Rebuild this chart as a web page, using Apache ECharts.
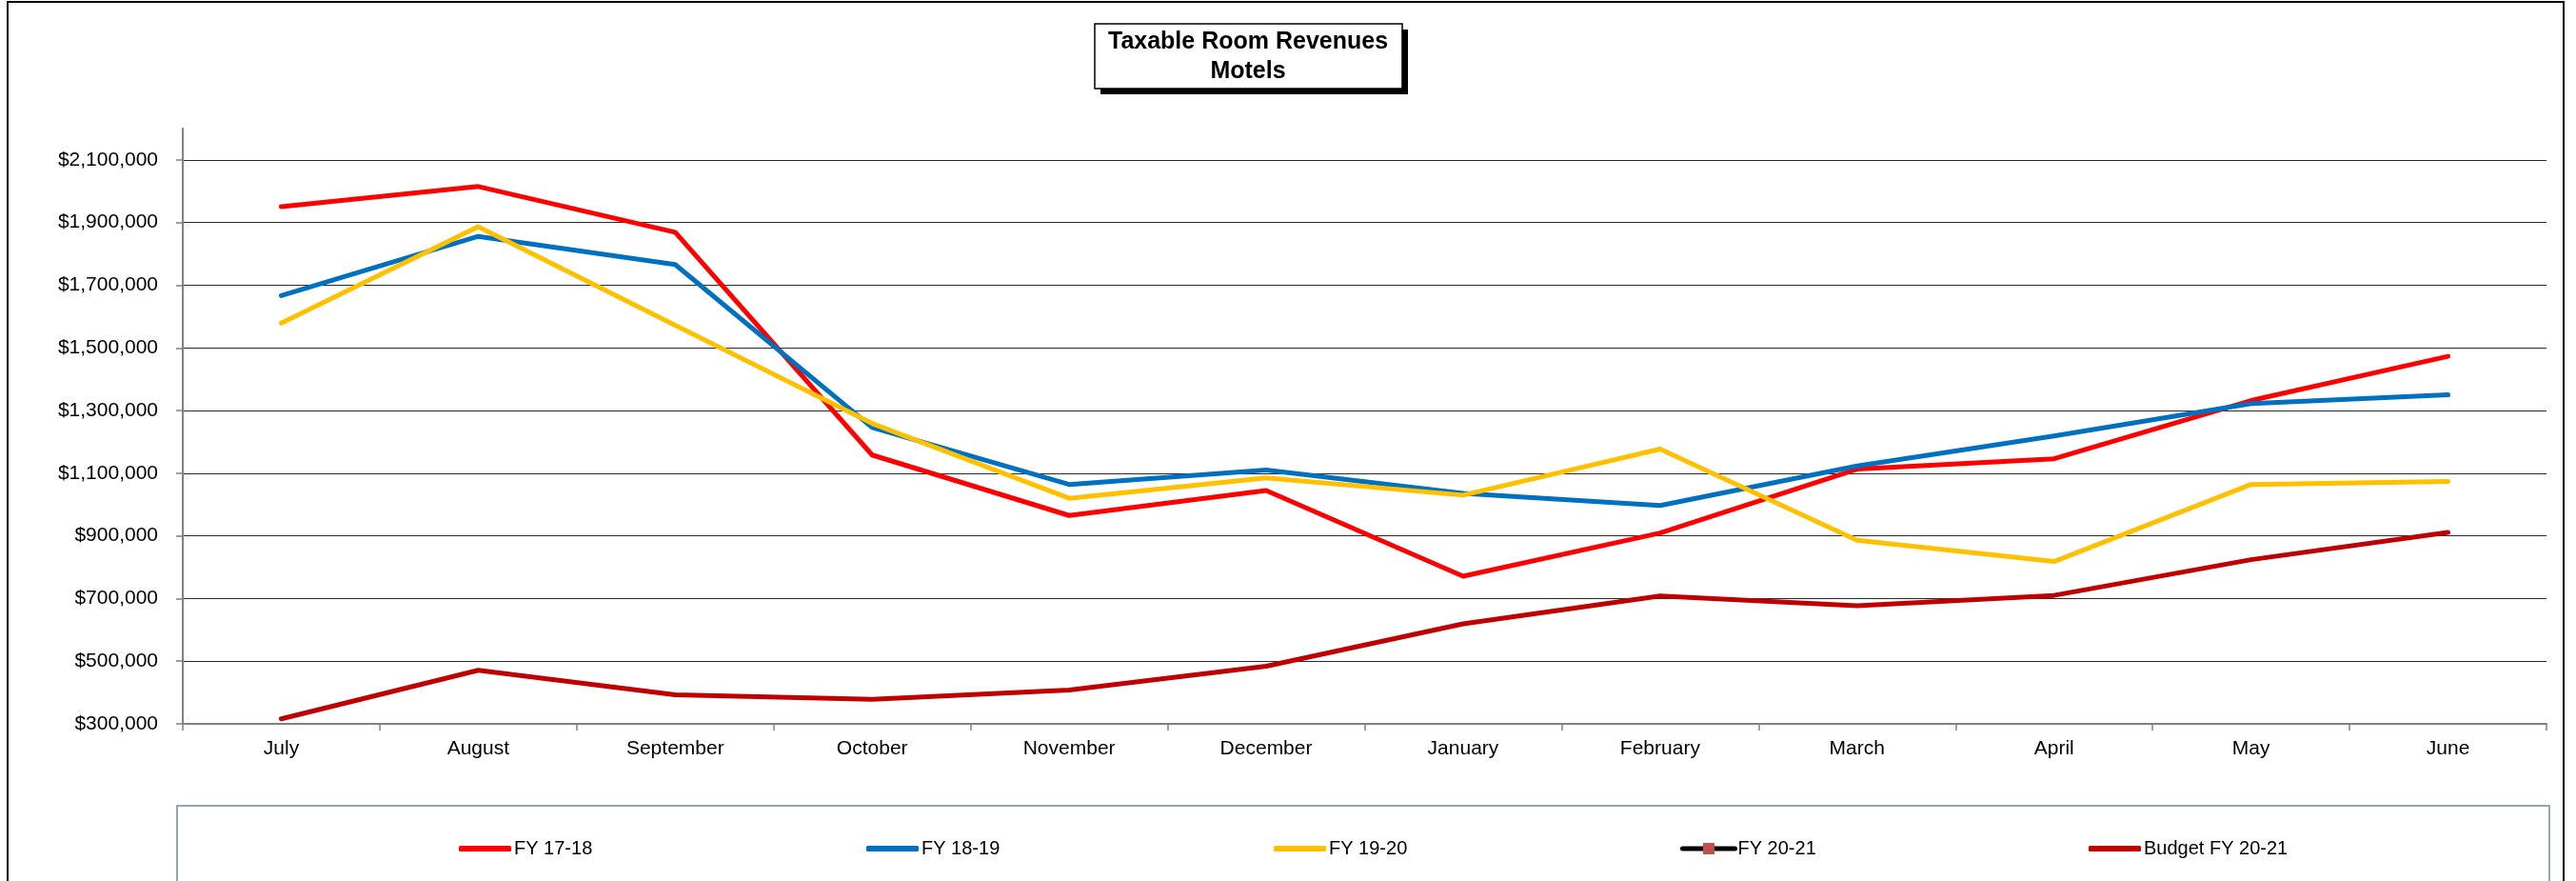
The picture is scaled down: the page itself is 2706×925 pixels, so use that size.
<!DOCTYPE html>
<html>
<head>
<meta charset="utf-8">
<title>Taxable Room Revenues - Motels</title>
<script src="https://cdn.jsdelivr.net/npm/echarts@6/dist/echarts.min.js"></script>
<style>
  html, body { margin: 0; padding: 0; background: #fff; }
  #chart { width: 2706px; height: 925px; }
</style>
</head>
<body>
<div id="chart"></div>
<script>
// months of the fiscal year
var months = ['July', 'August', 'September', 'October', 'November', 'December',
  'January', 'February', 'March', 'April', 'May', 'June']

// values
var fy1718 = [1951000, 2015000, 1869000, 1158000, 965000, 1045000, 771000, 909000, 1113000, 1146000, 1332000, 1473000]
var fy1819 = [1667000, 1856000, 1766000, 1246000, 1064000, 1110000, 1036000, 997000, 1123000, 1219000, 1322000, 1350000]
var fy1920 = [1579000, 1887000, 1572000, 1259000, 1020000, 1085000, 1030000, 1177000, 886000, 818000, 1064000, 1074000]
var fy2021 = [null, null, null, null, null, null, null, null, null, null, null, null]
var budget2021 = [316000, 471000, 393000, 378000, 408000, 484000, 619000, 708000, 677000, 710000, 824000, 911000]

var seriesNames = ['FY 17-18', 'FY 18-19', 'FY 19-20', 'FY 20-21', 'Budget FY 20-21']
var seriesColors = ['#FF0000', '#0070C0', '#FFC000', '#000000', '#C00000']

var font = "'Liberation Sans', Arial, sans-serif"

function money(v) {
  return '$' + Number(v).toLocaleString('en-US')
}

function lineSeries(name, data, color) {
  return {
    name: name,
    type: 'line',
    data: data,
    symbol: 'none',
    smooth: false,
    lineStyle: { color: color, width: 5, cap: 'round', join: 'round' },
    itemStyle: { color: color },
    emphasis: { disabled: true }
  }
}

// one legend per item so they sit at even spacing like the original
var legendLefts = [477, 905, 1333, 1760, 2189]
var legends = seriesNames.map(function(name, i) {
  var item = { name: name }
  if (i !== 3) {
    item.icon = 'roundRect'
  }
  return {
    data: [item],
    left: legendLefts[i],
    top: 876,
    itemWidth: 55,
    itemHeight: i === 3 ? 15 : 6,
    selectedMode: false,
    lineStyle: { width: 5, cap: 'round' },
    textStyle: { color: '#000', fontSize: 20, fontFamily: font, padding: [0, 0, 0, -2] }
  }
})

var chart = echarts.init(document.getElementById('chart'))

var option = {
  backgroundColor: '#fff',
  animation: false,
  textStyle: { fontFamily: font },
  grid: { left: 192, right: 31, top: 135, bottom: 165, containLabel: false },
  legend: legends,
  xAxis: {
    type: 'category',
    data: months,
    boundaryGap: true,
    axisLine: { lineStyle: { color: '#808080', width: 2 } },
    axisTick: { show: true, length: 7, lineStyle: { color: '#808080', width: 1.5 } },
    axisLabel: { color: '#000', fontSize: 21, fontFamily: font, margin: 16 },
    splitLine: { show: false }
  },
  yAxis: {
    type: 'value',
    min: 300000,
    max: 2200000,
    interval: 200000,
    axisLine: { show: true, lineStyle: { color: '#808080', width: 2 } },
    axisTick: { show: true, length: 7, lineStyle: { color: '#808080', width: 1.5 } },
    axisLabel: {
      color: '#000',
      fontSize: 21,
      fontFamily: font,
      margin: 26,
      showMaxLabel: false,
      formatter: money
    },
    splitLine: { show: true, showMaxLine: false, lineStyle: { color: '#2a2a2a', width: 1.2 } }
  },
  series: [
    lineSeries(seriesNames[0], fy1718, seriesColors[0]),
    lineSeries(seriesNames[1], fy1819, seriesColors[1]),
    lineSeries(seriesNames[2], fy1920, seriesColors[2]),
    {
      name: seriesNames[3],
      type: 'line',
      data: fy2021,
      symbol: 'rect',
      symbolSize: 10,
      lineStyle: { color: '#000', width: 5 },
      itemStyle: { color: '#C0504D' }
    },
    lineSeries(seriesNames[4], budget2021, seriesColors[4])
  ],
  graphic: [
    // chart border
    {
      type: 'rect',
      shape: { x: 8, y: 2, width: 2685, height: 940 },
      style: { fill: 'none', stroke: '#000', lineWidth: 2 },
      silent: true
    },
    // legend box
    {
      type: 'rect',
      shape: { x: 186, y: 846, width: 2492, height: 100 },
      style: { fill: 'none', stroke: '#6f88aa', lineWidth: 1.5 },
      silent: true
    },
    // title box shadow
    {
      type: 'rect',
      shape: { x: 1156, y: 31, width: 323, height: 68 },
      style: { fill: '#000' },
      silent: true
    },
    // title box
    {
      type: 'rect',
      shape: { x: 1150, y: 25, width: 323, height: 68 },
      style: { fill: '#fff', stroke: '#000', lineWidth: 1.5 },
      silent: true
    },
    {
      type: 'text',
      x: 1311,
      y: 44,
      style: {
        text: 'Taxable Room Revenues',
        fill: '#000',
        font: 'bold 25px ' + font,
        align: 'center',
        verticalAlign: 'middle'
      },
      silent: true
    },
    {
      type: 'text',
      x: 1311,
      y: 75,
      style: {
        text: 'Motels',
        fill: '#000',
        font: 'bold 25px ' + font,
        align: 'center',
        verticalAlign: 'middle'
      },
      silent: true
    }
  ]
}

chart.setOption(option)
</script>
</body>
</html>
